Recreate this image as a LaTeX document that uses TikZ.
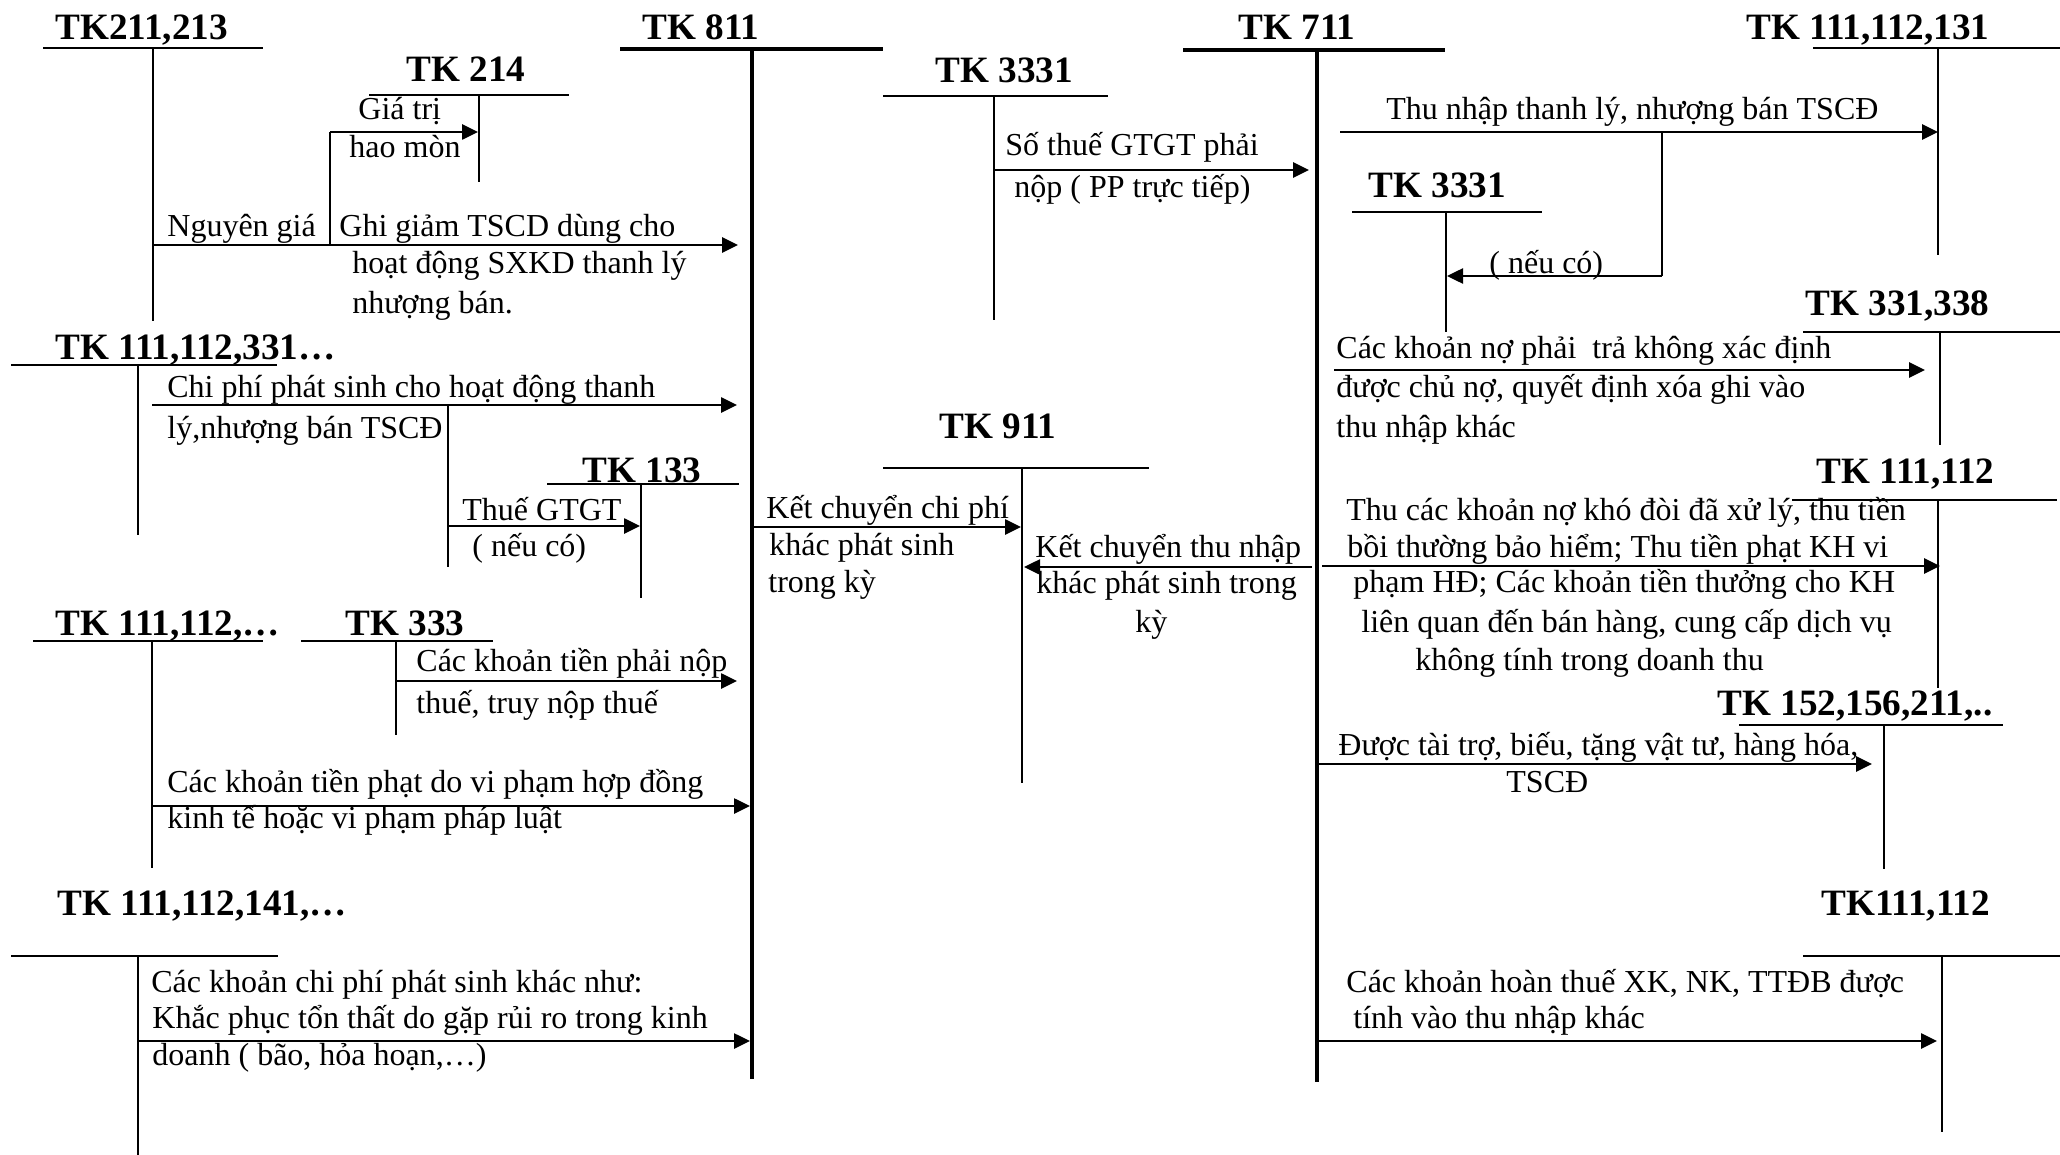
\documentclass[tikz,border=0pt]{standalone}
\usepackage{fontspec}
\setmainfont{Liberation Serif}
\usetikzlibrary{arrows.meta}

% T-account: horizontal rule from x1 to x2 at height y, vertical at vx down to vb
\newcommand\tacct[7][acctline]{%
  \coordinate (#2-l) at (#3,#5);
  \coordinate (#2-r) at (#4,#5);
  \coordinate (#2-t) at (#6,#5);
  \coordinate (#2-b) at (#6,#7);
  \draw[#1] (#2-l) -- (#2-r);
  \draw[#1] (#2-t) -- (#2-b);}

% Horizontal posting arrow: name, start x, y, tip x
\newcommand\flowarrow[4]{%
  \coordinate (#1-s) at (#2,#3);
  \coordinate (#1-e) at (#4,#3);
  \draw[flow] (#1-s) -- (#1-e);}

\tikzset{
  acctline/.style={line width=0.75pt},
  mainline/.style={line width=1.75pt},
  flow/.style={line width=1.3pt, -{Triangle[length=8pt,width=7.5pt]}},
  branch/.style={line width=1.3pt},
  hd/.style={font=\fontsize{18.6}{21}\selectfont\bfseries, inner sep=0pt, anchor=base west},
  lbl/.style={font=\fontsize{16}{18.5}\selectfont, inner sep=0pt, anchor=base west},
}

\begin{document}
\begin{tikzpicture}[x=0.5pt, y=-0.5pt]
\fill[white] (0,0) rectangle (2060,1155);
\useasboundingbox (0,0) rectangle (2060,1155);

% ---------- account headings ----------
\node[hd] (h211)  at (55,40)   {TK211,213};
\node[hd] (h214)  at (406,82)  {TK 214};
\node[hd] (h811)  at (642,40)  {TK 811};
\node[hd] (h3331a) at (935,83) {TK 3331};
\node[hd] (h711)  at (1238,40) {TK 711};
\node[hd] (h111a) at (1746,40) {TK 111,112,131};
\node[hd] (h3331b) at (1368,198) {TK 3331};
\node[hd] (h331)  at (1805,315) {TK 331,338};
\node[hd] (h111b) at (55,359)  {TK 111,112,331…};
\node[hd] (h911)  at (939,438) {TK 911};
\node[hd] (h133)  at (582,482) {TK 133};
\node[hd] (h111c) at (1816,483) {TK 111,112};
\node[hd] (h111d) at (55,635)  {TK 111,112,…};
\node[hd] (h333)  at (345,635) {TK 333};
\node[hd] (h152)  at (1717,715) {TK 152,156,211,..};
\node[hd] (h111e) at (57,915)  {TK 111,112,141,…};
\node[hd] (h111f) at (1821,915) {TK111,112};

% ---------- T-account rules ----------
\tacct{t211}{43}{263}{48}{153}{321}
\tacct{t214}{369}{569}{95}{479}{182}
\tacct[mainline]{t811}{620}{883}{49}{752}{1079}
\tacct{t3331a}{883}{1108}{96}{994}{320}
\tacct[mainline]{t711}{1183}{1445}{50}{1317}{1082}
\tacct{t111a}{1813}{2060}{48}{1938}{255}
\tacct{t3331b}{1352}{1542}{212}{1446}{332}
\tacct{t331}{1803}{2060}{332}{1940}{445}
\tacct{t111b}{11}{277}{365}{138}{535}
\tacct{t911}{883}{1149}{468}{1022}{783}
\tacct{t133}{547}{739}{484}{641}{598}
\tacct{t111c}{1792}{2057}{500}{1938}{688}
\tacct{t111d}{33}{263}{641}{152}{868}
\tacct{t333}{301}{493}{641}{396}{735}
\tacct{t152}{1739}{2003}{725}{1884}{869}
\tacct{t111e}{11}{278}{956}{138}{1155}
\tacct{t111f}{1803}{2060}{956}{1942}{1132}

% ---------- postings on the left side ----------
\flowarrow{f1}{153}{245}{738}
\coordinate (b1) at (330,245);
\coordinate (b1k) at (330,132);
\coordinate (b1e) at (478,132);
\draw[branch] (b1) -- (b1k);
\draw[flow] (b1k) -- (b1e);
\node[lbl] (l1a) at (167,237) {Nguyên giá};
\node[lbl] (l1b) at (339,237) {Ghi giảm TSCD dùng cho};
\node[lbl] (l1c) at (352,273) {hoạt động SXKD thanh lý};
\node[lbl] (l1d) at (352,314) {nhượng bán.};
\node[lbl] (l2a) at (358,120) {Giá trị};
\node[lbl] (l2b) at (349,158) {hao mòn};

\flowarrow{f2}{152}{405}{737}
\node[lbl] (l3a) at (167,397) {Chi phí phát sinh cho hoạt động thanh};
\node[lbl] (l3b) at (167,438) {lý,nhượng bán TSCĐ};
\coordinate (b2) at (448,405);
\coordinate (b2b) at (448,567);
\draw[acctline] (b2) -- (b2b);
\flowarrow{f3}{448}{526}{640}
\node[lbl] (l4a) at (462,520) {Thuế GTGT};
\node[lbl] (l4b) at (472,556) {( nếu có)};

\flowarrow{f4}{396}{681}{737}
\node[lbl] (l5a) at (416,671) {Các khoản tiền phải nộp};
\node[lbl] (l5b) at (416,713) {thuế, truy nộp thuế};

\flowarrow{f5}{152}{806}{750}
\node[lbl] (l6a) at (167,792) {Các khoản tiền phạt do vi phạm hợp đồng};
\node[lbl] (l6b) at (167,828) {kinh tế hoặc vi phạm pháp luật};

\flowarrow{f6}{138}{1041}{750}
\node[lbl] (l7a) at (151,992)  {Các khoản chi phí phát sinh khác như:};
\node[lbl] (l7b) at (152,1028) {Khắc phục tổn thất do gặp rủi ro trong kinh};
\node[lbl] (l7c) at (152,1065) {doanh ( bão, hỏa hoạn,…)};

% ---------- closing entries to TK 911 ----------
\flowarrow{f7}{752}{527}{1021}
\node[lbl] (l8a) at (766,518) {Kết chuyển chi phí};
\node[lbl] (l8b) at (769,555) {khác phát sinh};
\node[lbl] (l8c) at (768,592) {trong kỳ};

\flowarrow{f8}{1312}{567}{1024}
\node[lbl] (l9a) at (1035,557) {Kết chuyển thu nhập};
\node[lbl] (l9b) at (1036,593) {khác phát sinh trong};
\node[lbl] (l9c) at (1135,632) {kỳ};

% ---------- VAT payable to TK 711 ----------
\flowarrow{f9}{994}{170}{1309}
\node[lbl] (l10a) at (1005,156) {Số thuế GTGT phải};
\node[lbl] (l10b) at (1014,198) {nộp ( PP trực tiếp)};

% ---------- postings on the right side ----------
\flowarrow{f10}{1340}{132}{1938}
\node[lbl] (l11) at (1386,120) {Thu nhập thanh lý, nhượng bán TSCĐ};
\coordinate (b3) at (1662,132);
\coordinate (b3k) at (1662,276);
\coordinate (b3e) at (1447,276);
\draw[branch] (b3) -- (b3k);
\draw[flow] (b3k) -- (b3e);
\node[lbl] (l12) at (1489,273) {( nếu có)};

\flowarrow{f11}{1334}{370}{1925}
\node[lbl] (l13a) at (1336,358) {Các khoản nợ phải\ \ trả không xác định};
\node[lbl] (l13b) at (1336,397) {được chủ nợ, quyết định xóa ghi vào};
\node[lbl] (l13c) at (1336,437) {thu nhập khác};

\flowarrow{f12}{1322}{566}{1940}
\node[lbl] (l14a) at (1346,520) {Thu các khoản nợ khó đòi đã xử lý, thu tiền};
\node[lbl] (l14b) at (1347,557) {bồi thường bảo hiểm; Thu tiền phạt KH vi};
\node[lbl] (l14c) at (1353,592) {phạm HĐ; Các khoản tiền thưởng cho KH};
\node[lbl] (l14d) at (1361,632) {liên quan đến bán hàng, cung cấp dịch vụ};
\node[lbl] (l14e) at (1415,670) {không tính trong doanh thu};

\flowarrow{f13}{1317}{764}{1872}
\node[lbl] (l15a) at (1338,755) {Được tài trợ, biếu, tặng vật tư, hàng hóa,};
\node[lbl] (l15b) at (1506,792) {TSCĐ};

\flowarrow{f14}{1317}{1041}{1937}
\node[lbl] (l16a) at (1346,992)  {Các khoản hoàn thuế XK, NK, TTĐB được};
\node[lbl] (l16b) at (1353,1028) {tính vào thu nhập khác};
\end{tikzpicture}
\end{document}
